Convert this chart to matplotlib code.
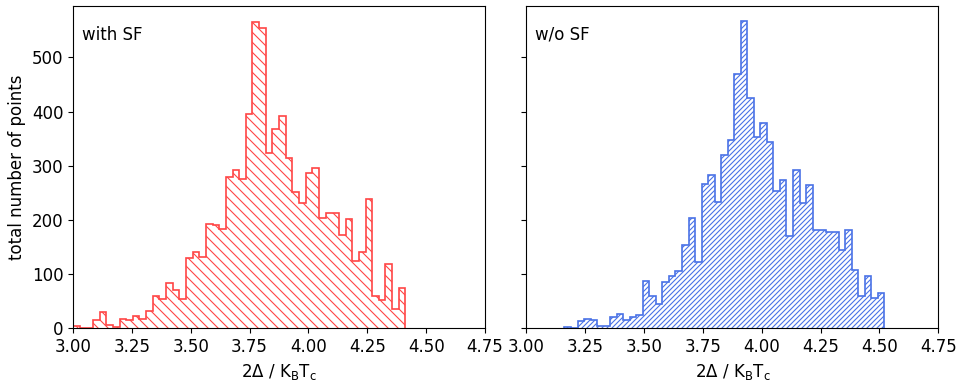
import matplotlib
matplotlib.use("Agg")
import matplotlib.pyplot as plt
import numpy as np

# histogram counts
# with SF: 50 bins between 3.000 and 4.412
sf_range = (3.000, 4.412)
sf_counts = [4, 0, 0, 15, 30, 7, 2, 17, 15, 22,
             17, 32, 60, 54, 84, 71, 55, 130, 140, 132,
             193, 190, 183, 280, 293, 276, 396, 566, 554, 324,
             367, 391, 314, 252, 232, 286, 295, 203, 213, 212,
             173, 201, 124, 140, 238, 59, 52, 119, 36, 74]

# w/o SF: 49 bins between 3.162 and 4.521
nosf_range = (3.162, 4.521)
nosf_counts = [2, 0, 13, 18, 15, 4, 4, 21, 27, 16,
               20, 24, 87, 60, 44, 86, 97, 105, 154, 203,
               122, 267, 283, 233, 320, 347, 469, 567, 426, 354,
               379, 343, 254, 273, 171, 292, 232, 264, 182, 182,
               177, 177, 145, 182, 107, 60, 97, 56, 65]

xticks = [3.00, 3.25, 3.50, 3.75, 4.00, 4.25, 4.50, 4.75]

# hatch spacing depends on dpi; sizes in points are scaled so the
# pixel sizes stay the same as a 100 dpi figure
DPI = 90
s = 100 / DPI
plt.rcParams['font.size'] = 12 * s
plt.rcParams['hatch.linewidth'] = 0.8 * s
plt.rcParams['axes.linewidth'] = 0.8 * s
for a in ('xtick', 'ytick'):
    plt.rcParams[a + '.major.size'] = 3.5 * s
    plt.rcParams[a + '.major.width'] = 0.8 * s
    plt.rcParams[a + '.major.pad'] = 3.5 * s
plt.rcParams['axes.labelpad'] = 4.0 * s

fig = plt.figure(figsize=(964 / DPI, 387 / DPI), dpi=DPI)
ax1 = fig.add_axes([0.0757, 0.1517, 0.4274, 0.8328])
ax2 = fig.add_axes([0.546, 0.1517, 0.4274, 0.8328], sharey=ax1)

panels = [
    (ax1, sf_counts, sf_range, '#ff4545', '\\\\\\', 'with SF'),
    (ax2, nosf_counts, nosf_range, '#4a72e6', '//////', 'w/o SF'),
]

for ax, counts, rng, col, hatch, name in panels:
    edges = np.linspace(rng[0], rng[1], len(counts) + 1)
    plt.rcParams['hatch.color'] = col
    ax.stairs(counts, edges, fill=False, edgecolor=col, hatch=hatch,
              linewidth=1.2 * s)
    ax.set_xlim(3.0, 4.75)
    ax.set_xticks(xticks)
    ax.set_xticklabels([f"{t:.2f}" for t in xticks])
    ax.set_xlabel(r'2$\Delta$ / $\mathrm{K_B T_c}$')
    ax.text(0.022, 0.895, name, transform=ax.transAxes)

ax1.set_ylim(0, 595)
ax1.set_yticks([0, 100, 200, 300, 400, 500])
ax1.set_ylabel('total number of points')
plt.setp(ax2.get_yticklabels(), visible=False)

fig.savefig('out.png', dpi=DPI)
